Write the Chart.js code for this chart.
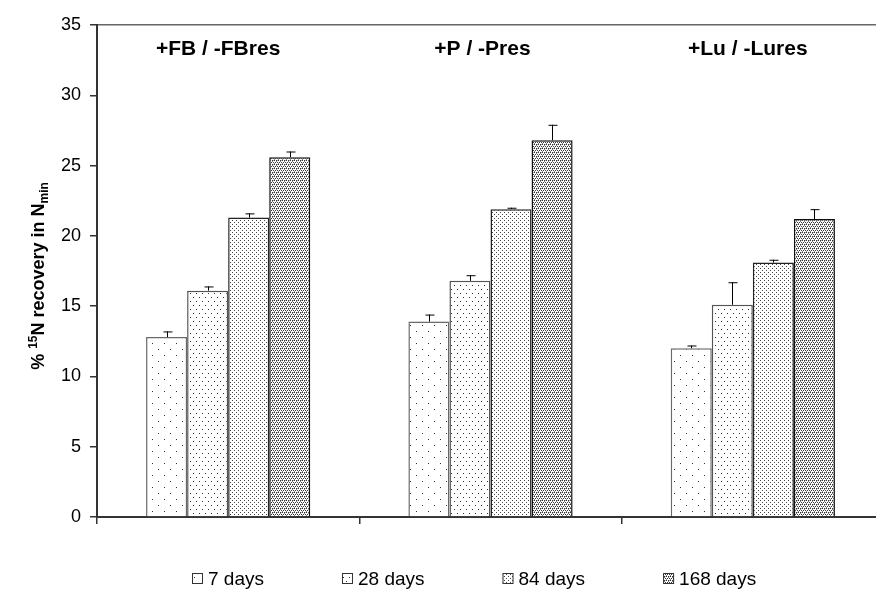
<!DOCTYPE html>
<html>
<head>
<meta charset="utf-8">
<script src="https://cdn.jsdelivr.net/npm/chart.js@4"></script>
<style>
  body { margin: 0; background: #fff; overflow: hidden; }
  #wrap { width: 876px; height: 589px; overflow: hidden; position: relative; }
  #mycanvas { display: block; }
</style>
</head>
<body>
<div id="wrap"><canvas id="mycanvas" width="886" height="589"></canvas></div>
<script>
// data
var groups = ['+FB / -FBres', '+P / -Pres', '+Lu / -Lures'];
var seriesNames = ['7 days', '28 days', '84 days', '168 days'];
var days7 = [12.8, 13.9, 12.0];
var days28 = [16.1, 16.8, 15.1];
var days84 = [21.3, 21.9, 18.1];
var days168 = [25.6, 26.8, 21.2];
// upper error bars (only plus side shown)
var err7 = [0.4, 0.5, 0.2];
var err28 = [0.3, 0.4, 1.6];
var err84 = [0.3, 0.1, 0.2];
var err168 = [0.4, 1.1, 0.7];
var yTicks = [0, 5, 10, 15, 20, 25, 30, 35];

var FONT = "'Liberation Sans', Arial, sans-serif";

// dotted fills like the old excel patterns
function makePattern(w, h, dots, col) {
	var c = document.createElement('canvas');
	c.width = w; c.height = h;
	var g = c.getContext('2d');
	g.fillStyle = '#fff';
	g.fillRect(0, 0, w, h);
	for (var i = 0; i < dots.length; i++) {
		g.fillStyle = dots[i][2] || col;
		g.fillRect(dots[i][0], dots[i][1], 1, 1);
	}
	return g.createPattern(c, 'repeat');
}

var pat7 = makePattern(12, 12, [[2, 1], [8, 7]], '#333');
var pat28 = makePattern(6, 8, [[1, 1], [4, 5]], '#333');
var pat84 = makePattern(4, 4, [[0, 0], [2, 2]], '#444');
var pat168 = makePattern(4, 4, [[0, 0], [2, 0], [1, 2], [3, 2], [0, 1, '#888'], [2, 3, '#888'], [1, 0, '#bbb'], [3, 2, '#333']], '#333');

var values = [days7, days28, days84, days168];
var errors = [err7, err28, err84, err168];
var fills = [pat7, pat28, pat84, pat168];
var borders = ['#6a6a6a', '#555', '#222', '#111'];

var datasets = [];
for (var s = 0; s < seriesNames.length; s++) {
	datasets.push({
		label: seriesNames[s],
		data: values[s],
		errUp: errors[s],
		backgroundColor: fills[s],
		borderColor: borders[s],
		borderWidth: 1.5,
		borderSkipped: 'bottom',
		barPercentage: 1.0,
		categoryPercentage: 0.626
	});
}

// error bars on top of each bar
var errorBars = {
	id: 'errorBars',
	afterDatasetsDraw: function(chart) {
		var ctx = chart.ctx;
		var y = chart.scales.y;
		ctx.save();
		ctx.strokeStyle = '#000';
		ctx.lineWidth = 1;
		chart.data.datasets.forEach(function(ds, di) {
			var meta = chart.getDatasetMeta(di);
			meta.data.forEach(function(bar, i) {
				var top = y.getPixelForValue(ds.data[i] + ds.errUp[i]);
				var x = Math.round(bar.x) + 0.5;
				ctx.beginPath();
				ctx.moveTo(x, bar.y);
				ctx.lineTo(x, top);
				ctx.moveTo(x - 4, top + 0.5);
				ctx.lineTo(x + 5, top + 0.5);
				ctx.stroke();
			});
		});
		ctx.restore();
	}
};

// group names above bars, y title with super/subscript, legend at bottom
var labelShift = [-10, -8, -5];
var extraText = {
	id: 'extraText',
	afterDraw: function(chart) {
		var ctx = chart.ctx;
		var x = chart.scales.x;
		var area = chart.chartArea;
		ctx.save();
		ctx.fillStyle = '#000';
		ctx.font = 'bold 21px ' + FONT;
		ctx.textAlign = 'center';
		ctx.textBaseline = 'middle';
		groups.forEach(function(g, i) {
			ctx.fillText(g, x.getPixelForValue(i) + labelShift[i], area.top + 24);
		});

		// y axis title
		var parts = [
			{ t: '% ', f: 'bold 18px ', dy: 0 },
			{ t: '15', f: 'bold 12px ', dy: -7 },
			{ t: 'N recovery in N', f: 'bold 18px ', dy: 0 },
			{ t: 'min', f: 'bold 12px ', dy: 4 }
		];
		var total = 0;
		parts.forEach(function(p) { ctx.font = p.f + FONT; p.w = ctx.measureText(p.t).width; total += p.w; });
		ctx.translate(37, 276);
		ctx.rotate(-Math.PI / 2);
		ctx.textAlign = 'left';
		ctx.textBaseline = 'alphabetic';
		var px = -total / 2;
		parts.forEach(function(p) {
			ctx.font = p.f + FONT;
			ctx.fillText(p.t, px, 6.5 + p.dy);
			px += p.w;
		});
		ctx.setTransform(1, 0, 0, 1, 0, 0);

		// legend
		ctx.font = '19px ' + FONT;
		ctx.textAlign = 'left';
		ctx.textBaseline = 'alphabetic';
		var lx = 192;
		chart.data.datasets.forEach(function(ds) {
			ctx.fillStyle = ds.backgroundColor;
			ctx.fillRect(lx, 573, 11, 11);
			ctx.strokeStyle = '#333';
			ctx.lineWidth = 1;
			ctx.strokeRect(lx + 0.5, 573.5, 10, 10);
			ctx.fillStyle = '#000';
			ctx.fillText(ds.label, lx + 16, 585);
			lx += 16 + ctx.measureText(ds.label).width + 78;
		});
		ctx.restore();
	}
};

var ctx = document.getElementById('mycanvas');

var barGraph = new Chart(ctx, {
	type: 'bar',
	data: {
		labels: groups,
		datasets: datasets
	},
	options: {
		responsive: false,
		animation: false,
		layout: { padding: { left: 0, right: 2, top: 25, bottom: 0 } },
		plugins: {
			legend: { display: false },
			tooltip: { enabled: false }
		},
		scales: {
			x: {
				offset: true,
				ticks: { display: false },
				grid: {
					offset: true,
					drawOnChartArea: false,
					tickLength: 7,
					tickColor: '#333',
					lineWidth: 1.5
				},
				border: { color: '#333', width: 2 },
				afterFit: function(scale) { scale.height = 72; }
			},
			y: {
				min: 0,
				max: 35,
				afterBuildTicks: function(scale) {
					scale.ticks = yTicks.map(function(v) { return { value: v }; });
				},
				ticks: {
					color: '#000',
					padding: 9,
					font: { family: FONT, size: 18 }
				},
				grid: {
					color: function(c) { return c.tick && c.tick.value === 35 ? '#666' : 'rgba(0,0,0,0)'; },
					lineWidth: 1.5,
					tickLength: 7,
					tickColor: '#333'
				},
				border: { color: '#333', width: 2 },
				afterFit: function(scale) { scale.width = 97; }
			}
		}
	},
	plugins: [errorBars, extraText]
});
</script>
</body>
</html>
